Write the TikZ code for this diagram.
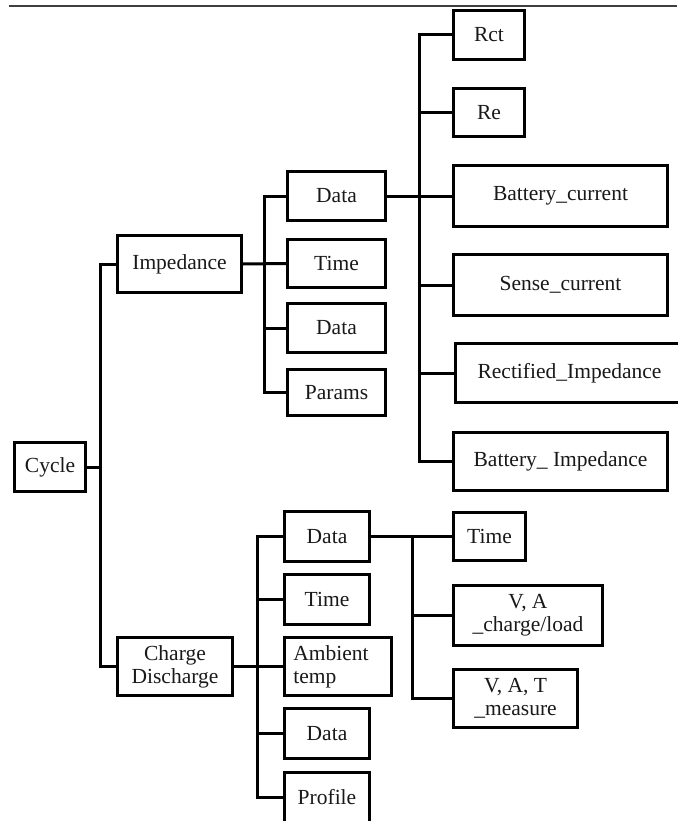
\documentclass[tikz,border=0pt]{standalone}
\usepackage{fontspec}
\setmainfont{Liberation Serif}
\begin{document}
\begin{tikzpicture}[x=1pt,y=-1pt,
  box/.style={draw=black, line width=3pt, inner sep=0pt, font=\fontsize{21.5}{23}\selectfont, text=black!90},
  link/.style={draw=black, line width=3pt, line join=miter}]
\useasboundingbox (0,0) rectangle (677,821);
\fill[white] (0,0) rectangle (677,821);
\coordinate (tl) at (9,6);
\coordinate (tr) at (677,6);
\draw[black!75, line width=1.5pt] (tl) -- (tr);
% level 0
\node[box, minimum width=71, minimum height=49] (cycle) at (50,467) {Cycle};
% level 1
\node[box, minimum width=124, minimum height=57] (imp) at (179.5,264) {Impedance};
\node[box, minimum width=115, minimum height=58, align=center] (cd) at (175,666.5) {Charge\\Discharge};
% impedance children
\node[box, minimum width=98, minimum height=49] (d1) at (336.5,196) {Data};
\node[box, minimum width=98, minimum height=48] (t1) at (336.5,263.5) {Time};
\node[box, minimum width=98, minimum height=49] (d2) at (336.5,328) {Data};
\node[box, minimum width=98, minimum height=46] (par) at (336.5,392.5) {Params};
% data children
\node[box, minimum width=71, minimum height=49] (rct) at (489,35) {Rct};
\node[box, minimum width=71, minimum height=48] (re) at (489,112.5) {Re};
\node[box, minimum width=214, minimum height=61] (bc) at (560.5,196) {Battery\_current};
\node[box, minimum width=214, minimum height=61] (sc) at (560.5,285) {Sense\_current};
\node[box, minimum width=229, minimum height=59, anchor=west] (ri) at (453.5,373) {Rectified\_Impedance};
\node[box, minimum width=214, minimum height=58] (bi) at (560.5,461.5) {Battery\_ Impedance};
% charge discharge children
\node[box, minimum width=85, minimum height=50] (cd1) at (327,536.5) {Data};
\node[box, minimum width=85, minimum height=50] (cdt) at (327,599.5) {Time};
\node[box, minimum width=107, minimum height=58, align=left] (amb) at (338,666.5) {\hspace{-14pt}Ambient\\\hspace{-14pt}temp};
\node[box, minimum width=85, minimum height=50] (cd2) at (327,733.5) {Data};
\node[box, minimum width=85, minimum height=50] (prof) at (327,797.5) {Profile};
% data (cd) children
\node[box, minimum width=72, minimum height=48] (t2) at (489.5,536.5) {Time};
\node[box, minimum width=149, minimum height=60, align=center] (va) at (528,615.5) {V, A\\\_charge/load};
\node[box, minimum width=124, minimum height=58, align=center] (vat) at (515.5,698.5) {V, A, T\\\_measure};
% connectors
\coordinate (b0) at (100,467);
\draw[link] (cycle.east) -- (b0);
\draw[link] (imp.west) -| (b0) |- (cd.west);
\coordinate (b1) at (264,264);
\draw[link] (imp.east) -- (t1.west);
\draw[link] (d1.west) -| (b1) |- (par.west);
\draw[link] (b1) |- (d2.west);
\coordinate (b2) at (419,196);
\draw[link] (d1.east) -- (bc.west);
\draw[link] (rct.west) -| (b2) |- (bi.west);
\draw[link] (b2 |- re.west) -- (re.west);
\draw[link] (b2 |- sc.west) -- (sc.west);
\draw[link] (b2 |- ri.west) -- (ri.west);
\coordinate (b3) at (257,666.5);
\draw[link] (cd.east) -- (amb.west);
\draw[link] (cd1.west) -| (b3) |- (prof.west);
\draw[link] (b3 |- cdt.west) -- (cdt.west);
\draw[link] (b3 |- cd2.west) -- (cd2.west);
\coordinate (b4) at (412,536.5);
\draw[link] (cd1.east) -- (t2.west);
\draw[link] (b4) |- (vat.west);
\draw[link] (b4 |- va.west) -- (va.west);
\end{tikzpicture}
\end{document}
